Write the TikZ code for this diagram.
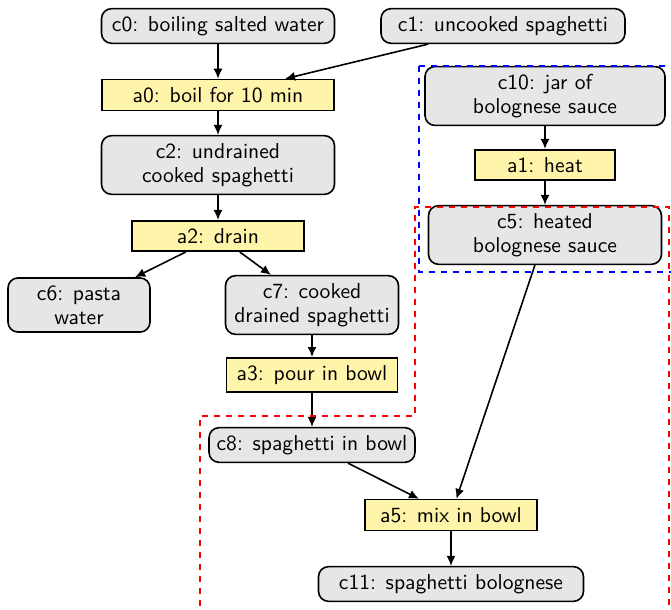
\documentclass[tikz,border=0pt]{standalone}
\usepackage{xcolor}
\usepackage{tikz}
\usetikzlibrary{arrows.meta, positioning}

\definecolor{conceptgray}{RGB}{230,230,230}
\definecolor{actionyellow}{RGB}{255,245,170}

\begin{document}
\begin{tikzpicture}[
    x=0.5pt, y=-0.5pt,
    font=\sffamily\fontsize{10.8}{12}\selectfont,
    % Concept nodes (rounded, grey fill)
    concept/.style={rectangle, draw=black, thick, rounded corners=5pt,
                    fill=conceptgray, align=center, inner sep=3.8pt},
    % Action nodes (square, yellow fill)
    action/.style={rectangle, draw=black, thick,
                   fill=actionyellow, align=center, inner sep=3.8pt},
    % Dashed regions
    region/.style={dashed, thick},
    flow/.style={-{Latex[length=5pt,width=4.5pt]}, thick}
]
\useasboundingbox (0,0) rectangle (671,610);
\clip (0,0) rectangle (671,610);

%-------- SPAGHETTI BRANCH --------
\node[concept, minimum width=116.5pt] (c0) at (218,26) {c0: boiling salted water};
\node[concept, minimum width=122pt]   (c1) at (503,26) {c1: uncooked spaghetti};
\node[action,  minimum width=116pt]   (a0) at (218,95) {a0: boil for 10 min};
\node[concept, minimum width=116.5pt] (c2) at (218,165) {c2: undrained\\cooked spaghetti};
\node[action,  minimum width=86pt]    (a2) at (218,236) {a2: drain};
\node[concept, minimum width=71pt]    (c6) at (79,305)  {c6: pasta\\water};
\node[concept, minimum width=86.5pt]  (c7) at (312,305) {c7: cooked\\drained spaghetti};
\node[action,  minimum width=85.5pt]  (a3) at (312,375) {a3: pour in bowl};
\node[concept, minimum width=101.5pt] (c8) at (312,445) {c8: spaghetti in bowl};

%-------- SAUCE BRANCH --------
\node[concept, minimum width=120pt]   (c10) at (545,96)  {c10: jar of\\bolognese sauce};
\node[action,  minimum width=70pt]    (a1)  at (545,165) {a1: heat};
\node[concept, minimum width=116.5pt] (c5)  at (545,235) {c5: heated\\bolognese sauce};

%-------- MIXING --------
\node[action,  minimum width=86pt]    (a5)  at (451,515) {a5: mix in bowl};
\node[concept, minimum width=132.5pt] (c11) at (451,584) {c11: spaghetti bolognese};

%-------- ARROWS --------
\draw[flow] (c0)  -- (a0);
\draw[flow] (c1)  -- (a0);
\draw[flow] (a0)  -- (c2);
\draw[flow] (c2)  -- (a2);
\draw[flow] (a2)  -- (c6);
\draw[flow] (a2)  -- (c7);
\draw[flow] (c7)  -- (a3);
\draw[flow] (a3)  -- (c8);
\draw[flow] (c10) -- (a1);
\draw[flow] (a1)  -- (c5);
\draw[flow] (c8)  -- (a5);
\draw[flow] (c5)  -- (a5);
\draw[flow] (a5)  -- (c11);

%-------- REGIONS --------
\draw[region, blue] (419,66) rectangle (690,272);
\draw[region, red]  (200,630) -- (200,416) -- (415,416) -- (415,207)
                    -- (669,207) -- (669,630);

\end{tikzpicture}
\end{document}
